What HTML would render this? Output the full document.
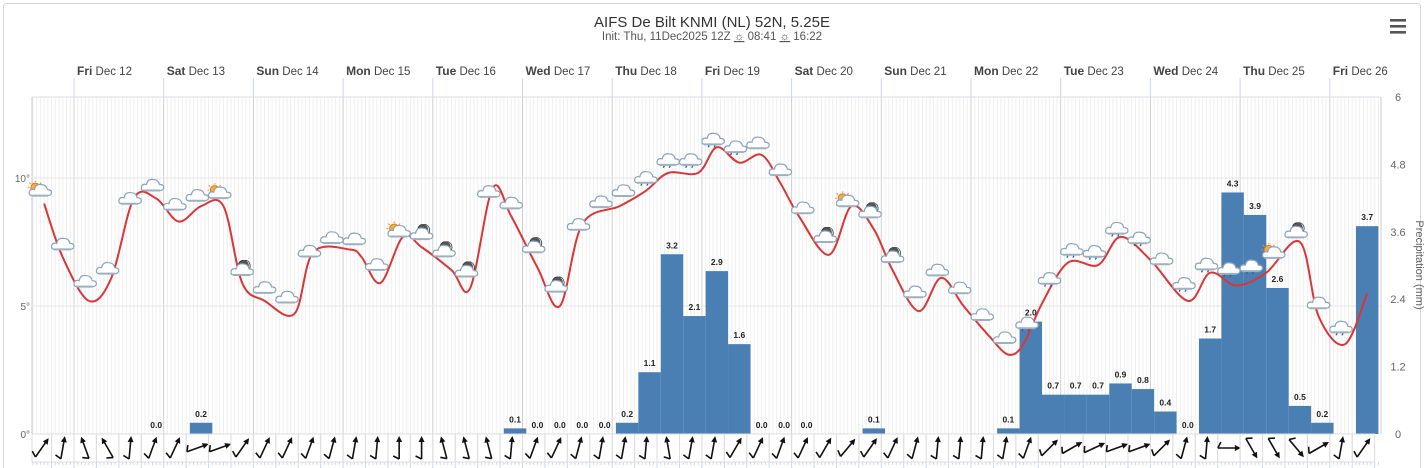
<!DOCTYPE html>
<html><head><meta charset="utf-8"><style>
html,body{margin:0;padding:0;background:#fff;}
svg{display:block;font-family:"Liberation Sans",sans-serif;}
</style></head><body>
<svg id="chart" width="1424" height="468" viewBox="0 0 1424 468" xmlns="http://www.w3.org/2000/svg">
<defs>
<symbol id="cloud" viewBox="0 0 26 18"><path d="M5 15 Q1 15 2 11 Q3 8 7 9 Q8 3 14 4 Q19 4 20 9 Q25 9 24 13 Q23 15 20 15 Z" fill="#fff" stroke="#8aa4bd" stroke-width="1.2"/><path d="M4 15 H21" stroke="#9bb0c4" stroke-width="2"/></symbol>
<symbol id="sun" viewBox="0 0 26 18"><circle cx="8" cy="7" r="4.5" fill="#f4b133" stroke="#e8731e" stroke-width="1"/><g stroke="#f08a2a" stroke-width="1"><path d="M8 0v1.5M2 2l1.5 1.5M14 2l-1.5 1.5M0.5 7H2"/></g></symbol>
<symbol id="moon" viewBox="0 0 26 18"><circle cx="15" cy="6" r="6" fill="#555" stroke="#333" stroke-width="0.8"/><path d="M17 0.5 A6 6 0 0 1 17 11.5 A7 7 0 0 0 17 0.5Z" fill="#eee"/></symbol>
<symbol id="drops" viewBox="0 0 26 18"><path d="M9 16l-1 2M15 16l-1 2" stroke="#2c5f99" stroke-width="1.3"/></symbol>
</defs>
<rect x="3.5" y="3.5" width="1417" height="470" rx="3" fill="#fff" stroke="#d8d8d8"/>
<text x="712" y="27" text-anchor="middle" font-size="15" fill="#333">AIFS De Bilt KNMI (NL) 52N, 5.25E</text>
<text x="712" y="40" text-anchor="middle" font-size="11.5" fill="#555">Init: Thu, 11Dec2025 12Z <tspan font-weight="bold" text-decoration="underline">☼</tspan> 08:41 <tspan font-weight="bold" text-decoration="underline">☼</tspan> 16:22</text>
<g><rect x="1390" y="19" width="16" height="2.6" fill="#555"/><rect x="1390" y="25" width="16" height="2.6" fill="#555"/><rect x="1390" y="31" width="16" height="2.6" fill="#555"/></g>
<g id="grid"></g><g id="bars"></g><g id="line"></g><g id="icons"></g><g id="wind"></g><g id="axes"></g>
</svg>
<script>
const dayLabels=["Fri|Dec 12","Sat|Dec 13","Sun|Dec 14","Mon|Dec 15","Tue|Dec 16","Wed|Dec 17","Thu|Dec 18","Fri|Dec 19","Sat|Dec 20","Sun|Dec 21","Mon|Dec 22","Tue|Dec 23","Wed|Dec 24","Thu|Dec 25","Fri|Dec 26"];
const tempHours=[16,21,28,34,40,46,52,58,64,69,75,83,88,98,101,106,112,117,125,130,136,141,148,154,160,170,177,183,191,196,202,208,213,218,226,232,238,243,250,256,262,269,274,278,283,290,298,304,312,322,328,335,343,352,357,364,370];
const temps=[9.0,6.9,5.2,6.1,9.2,9.2,8.3,8.9,8.9,5.9,5.2,4.7,7.1,7.2,6.9,5.9,7.7,7.3,6.4,5.7,9.6,8.5,6.5,5.0,8.2,8.9,9.5,10.2,10.2,11.2,10.6,10.9,9.8,8.5,7.0,8.9,8.0,6.4,4.8,6.1,5.0,3.8,3.1,3.5,5.1,6.7,6.6,7.7,6.8,5.2,6.3,5.8,6.3,7.5,4.6,3.5,5.5];
const precip=[null,null,null,null,null,0.0,null,0.2,null,null,null,null,null,null,null,null,null,null,null,null,null,0.1,0.0,0.0,0.0,0.0,0.2,1.1,3.2,2.1,2.9,1.6,0.0,0.0,0.0,null,null,0.1,null,null,null,null,null,0.1,2.0,0.7,0.7,0.7,0.9,0.8,0.4,0.0,1.7,4.3,3.9,2.6,0.5,0.2,null,3.7];
const iconTypes="scccccccsmccccccsmmmccmmcccrrrrrcccmsmmcccccrrrrrrchhhhsmch".split("");
const windDirs=[35,10,-20,-30,5,20,25,70,70,35,25,25,20,15,10,5,0,0,-15,-15,-15,5,20,25,15,10,10,5,-10,10,10,30,25,20,25,30,40,35,25,15,5,5,5,10,20,45,60,65,70,70,45,15,5,90,150,150,140,60,10,35];
const tempTicks=[0,5,10];
const precipTicks=[0,1.2,2.4,3.6,4.8,6];

const NS="http://www.w3.org/2000/svg";
const X0=32,X1=1381,YT=97,YB=434;
const xH=h=>74+(h-24)*3.7375;
const yT=t=>YB-t*25.6;
const yP=p=>YB-p*56.17;
function mk(tag,attrs,parent){const e=document.createElementNS(NS,tag);for(const k in attrs)e.setAttribute(k,attrs[k]);parent.appendChild(e);return e;}
const grid=document.getElementById('grid'),bars=document.getElementById('bars'),lineG=document.getElementById('line'),icons=document.getElementById('icons'),wind=document.getElementById('wind'),axes=document.getElementById('axes');

// minor hourly grid
for(let h=13;h<=373;h++){const x=xH(h);if(x<X0||x>X1)continue;
 const l=mk('line',{x1:x,x2:x,y1:YT,y2:YB,stroke:h%24===0?'#d0d0d0':'#efefef','stroke-width':1},grid);
 
 
 const t=mk('line',{x1:x,x2:x,y1:462,y2:h%6===0?468:465,stroke:'#ccd6eb','stroke-width':1},grid);
 
 }
mk('line',{x1:X0,x2:X1,y1:YT,y2:YT,stroke:'#d8dde6'},grid);
mk('line',{x1:X0,x2:X0,y1:YT,y2:YB,stroke:'#ccc'},grid);
mk('line',{x1:X1,x2:X1,y1:YT,y2:YB,stroke:'#ccc'},grid);
tempTicks.forEach(t=>{if(t===0)return;const g=mk('line',{x1:X0,x2:X1,y1:yT(t),y2:yT(t),stroke:'#e6e6e6'},grid);
 
 });
// day labels
dayLabels.forEach((d,i)=>{const x=xH(24*(i+1));const p=d.split('|');
 mk('line',{x1:x,x2:x,y1:78,y2:YT,stroke:'#ccd6eb'},axes);
 const t=mk('text',{x:x+3,y:75,'font-size':12,fill:'#444'},axes);
 
 
 const b=mk('tspan',{'font-weight':'bold'},t);b.textContent=p[0];
 const s=mk('tspan',{'font-size':11.5},t);s.textContent=' '+p[1];});
// axis labels
tempTicks.forEach(t=>{const e=mk('text',{x:30,y:yT(t)+4,'text-anchor':'end','font-size':10,fill:'#666'},axes);e.textContent=t+'°';
 
 });
precipTicks.forEach(p=>{const e=mk('text',{x:1398,y:yP(p)+4,'text-anchor':'middle','font-size':11,fill:'#666'},axes);e.textContent=String(p);
 
 });
const yl=mk('text',{x:1416,y:265,'text-anchor':'middle','font-size':11,fill:'#666',transform:'rotate(90 1416 265)'},axes);yl.textContent='Precipitation (mm)';


// bars
precip.forEach((v,k)=>{if(v===null)return;const h0=13+6*k,h1=h0+6;const x0=xH(h0),x1=Math.min(xH(h1),X1);
 const r=mk('rect',{x:x0,y:yP(v),width:x1-x0,height:YB-yP(v),fill:'#4a7fb4'},bars);
 
 
 const t=mk('text',{x:(x0+x1)/2,y:yP(v)-6,'text-anchor':'middle','font-size':8.5,'font-weight':'bold',fill:'#222'},bars);t.textContent=v.toFixed(1);
 
 });
// temperature line (catmull-rom)
const pts=tempHours.map((h,i)=>[xH(h),yT(temps[i])]);
let d='M'+pts[0][0]+','+pts[0][1];
for(let i=0;i<pts.length-1;i++){const p0=pts[Math.max(i-1,0)],p1=pts[i],p2=pts[i+1],p3=pts[Math.min(i+2,pts.length-1)];
 const c1=[p1[0]+(p2[0]-p0[0])/6,p1[1]+(p2[1]-p0[1])/6],c2=[p2[0]-(p3[0]-p1[0])/6,p2[1]-(p3[1]-p1[1])/6];
 d+=' C'+c1+' '+c2+' '+p2;}
const path=mk('path',{d:d,fill:'none',stroke:'#dc3535','stroke-width':2},lineG);


function tempAt(h){if(h<=tempHours[0])return temps[0];for(let i=0;i<tempHours.length-1;i++){if(h<=tempHours[i+1]){const f=(h-tempHours[i])/(tempHours[i+1]-tempHours[i]);return temps[i]+f*(temps[i+1]-temps[i]);}}return temps[temps.length-1];}
// icons
iconTypes.forEach((c,k)=>{const h=15+6*k;const x=xH(h),y=yT(tempAt(h))-14;
 const g=mk('g',{transform:`translate(${x-13},${y-9})`},icons);
 
 
 if(c==='s')mk('use',{href:'#sun',width:26,height:18},g);
 if(c==='m')mk('use',{href:'#moon',width:26,height:18},g);
 mk('use',{href:'#cloud',width:26,height:18},g);
 if(c==='r'||c==='h')mk('use',{href:'#drops',width:26,height:18},g);});
// wind cells and arrows
windDirs.forEach((a,i)=>{const h0=12+6*i;const x0=Math.max(xH(h0),X0),x1=Math.min(xH(h0+6),X1);
 const cell=mk('rect',{x:x0,y:YB,width:x1-x0,height:28,fill:'none',stroke:'#ddd'},wind);
 
 
 const cx=(x0+x1)/2,cy=YB+14;
 const g=mk('g',{transform:`translate(${cx},${cy}) rotate(${a})`},wind);
 
 
 mk('line',{x1:0,y1:11,x2:0,y2:-10,stroke:'#111','stroke-width':1.6},g);
 mk('path',{d:'M0,-12 L-3,-6 L3,-6 Z',fill:'#111'},g);
 mk('line',{x1:0,y1:11,x2:-6,y2:8,stroke:'#111','stroke-width':1.6},g);});
</script>
</body></html>
